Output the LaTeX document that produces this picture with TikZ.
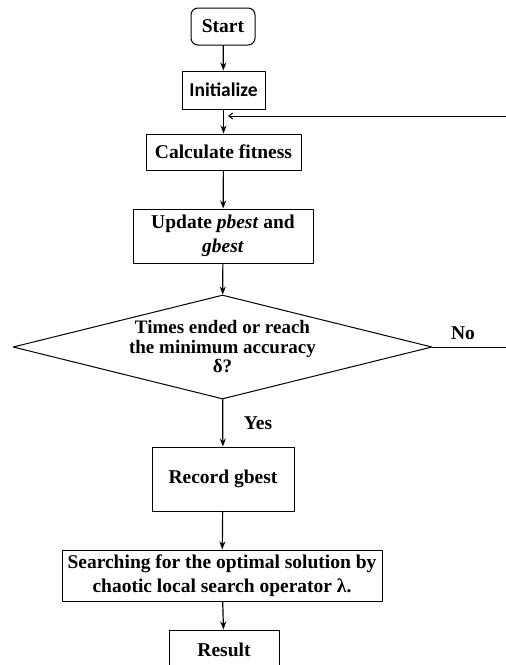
\documentclass[tikz,border=0pt]{standalone}
\usepackage{fontspec}
\setmainfont{Liberation Serif}
\newfontfamily\calibrifont{Carlito}
\usetikzlibrary{arrows.meta,shapes.geometric}

\begin{document}
\begin{tikzpicture}[x=1pt,y=-1pt,>={Stealth[length=8pt,width=6pt]},line cap=round,line join=round,
  box/.style={draw,line width=1pt,inner sep=0pt,align=center,font=\fontsize{19.5}{23.5}\selectfont\bfseries},
  link/.style={->,line width=1.2pt},
  lbl/.style={font=\fontsize{19.5}{23}\selectfont\bfseries}]
\clip (0,0) rectangle (506,665);
\useasboundingbox (0,0) rectangle (506,665);
\coordinate (s) at (223,26.5);
\coordinate (i) at (223.5,90);
\coordinate (c) at (223.5,152);
\coordinate (u) at (223,236);
\coordinate (d) at (222.5,347);
\coordinate (r) at (223,479);
\coordinate (q) at (222,575.5);
\coordinate (e) at (224,650);
\node[box,rounded corners=7pt,minimum width=64,minimum height=37] (start) at (s) {Start};
\node[box,minimum width=83,minimum height=38,font=\fontsize{19.5}{23}\selectfont\calibrifont\bfseries] (init) at (i) {Initialize};
\node[box,minimum width=155,minimum height=36] (calc) at (c) {Calculate fitness};
\node[box,minimum width=180,minimum height=54] (upd) at (u) {Update \textit{pbest} and\\\textit{gbest}};
\node[box,diamond,aspect=4,minimum width=419,minimum height=104,font=\fontsize{19}{19.5}\selectfont\bfseries] (dec) at (d) {Times ended or reach\\the minimum accuracy\\δ?};
\node[box,minimum width=142,minimum height=64] (rec) at (r) {Record gbest};
\node[box,minimum width=320,minimum height=51] (srch) at (q) {Searching for the optimal solution by\\chaotic local search operator λ.};
\node[box,minimum width=110,minimum height=40] (res) at (e) {Result};
\coordinate (noend) at (506,347);
\coordinate (fbin) at (506,116);
\coordinate (fbtip) at (228,116);
% main flow
\draw[link] (start) -- (init);
\draw[link] (init) -- (calc);
\draw[link] (calc) -- (upd);
\draw[link] (upd) -- (dec);
\draw[link] (dec) -- (rec);
\draw[link] (rec) -- (srch);
\draw[link] (srch) -- (res);
% loop back
\draw[line width=1pt] (dec.east) -- (noend);
\draw[-{Straight Barb[length=4pt,width=6pt]},line width=1pt] (fbin) -- (fbtip);
\node[lbl] (no) at (463,333) {No};
\node[lbl] (yes) at (258,423) {Yes};
\end{tikzpicture}
\end{document}
